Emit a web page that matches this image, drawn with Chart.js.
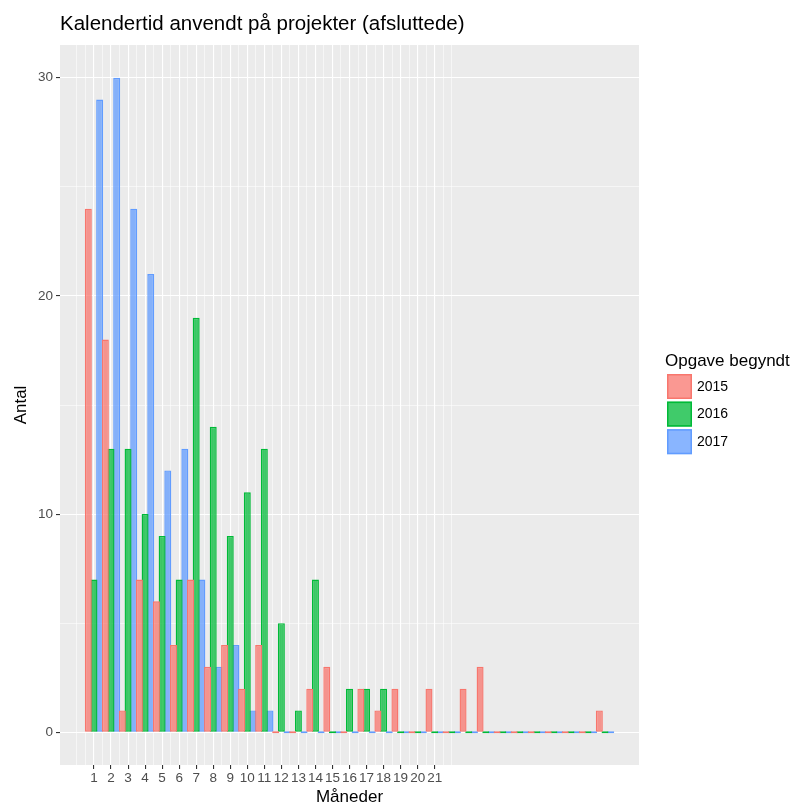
<!DOCTYPE html>
<html>
<head>
<meta charset="utf-8">
<script src="https://cdn.jsdelivr.net/npm/chart.js@4"></script>
<style>
  html, body { margin: 0; padding: 0; background: #ffffff; }
  #wrap { width: 796px; height: 804px; position: relative; }
</style>
</head>
<body>
<div id="wrap"><canvas id="c" width="796" height="804"></canvas></div>
<script>
// ---------- data ----------
const chartTitle = 'Kalendertid anvendt på projekter (afsluttede)';
const xTitle = 'Måneder';
const yTitle = 'Antal';
const legendTitle = 'Opgave begyndt';

const months = [1,2,3,4,5,6,7,8,9,10,11,12,13,14,15,16,17,18,19,20,21,22,23,24,25,26,27,28,29,30,31];
const seriesNames = ['2015', '2016', '2017'];
const values2015 = [24,18,1,7,6,4,7,3,4,2,4,0,0,2,3,0,2,1,2,0,2,0,2,3,0,0,0,0,0,0,1];
const values2016 = [7,13,13,10,9,7,19,14,9,11,13,5,1,7,0,2,2,2,0,0,0,0,0,0,0,0,0,0,0,0,0];
const values2017 = [29,30,24,21,12,13,7,3,4,1,1,0,0,0,0,0,0,0,0,0,0,0,0,0,0,0,0,0,0,0,0];

const xTickLabels = [1,2,3,4,5,6,7,8,9,10,11,12,13,14,15,16,17,18,19,20,21];
const xGridValues = [0,0.5,1,1.5,2,2.5,3,3.5,4,4.5,5,5.5,6,6.5,7,7.5,8,8.5,9,9.5,10,10.5,11,11.5,12,12.5,13,13.5,14,14.5,15,15.5,16,16.5,17,17.5,18,18.5,19,19.5,20,20.5,21,21.5,22];
const yGridValues = [0,5,10,15,20,25,30];
const yTickLabels = [0,10,20,30];

const lineColors = ['#F8766D', '#00BA38', '#619CFF'];
const fillColors = ['rgba(248,118,109,0.75)', 'rgba(0,186,56,0.75)', 'rgba(97,156,255,0.75)'];

// ---------- styling ----------
const FONT = '"Liberation Sans", Arial, Helvetica, sans-serif';
const PANEL_BG = '#EBEBEB';

const seriesValues = [values2015, values2016, values2017];

const bgPlugin = {
  id: 'ggBackground',
  beforeDraw(chart) {
    const { ctx, chartArea: a } = chart;
    ctx.save();
    ctx.fillStyle = '#ffffff';
    ctx.fillRect(0, 0, chart.width, chart.height);
    ctx.fillStyle = PANEL_BG;
    ctx.fillRect(a.left, a.top, a.right - a.left, a.bottom - a.top);
    ctx.restore();
  }
};

const textPlugin = {
  id: 'ggText',
  afterDraw(chart) {
    const { ctx, chartArea: a } = chart;
    ctx.save();
    // title
    ctx.fillStyle = '#000000';
    ctx.font = '20.5px ' + FONT;
    ctx.textAlign = 'left';
    ctx.textBaseline = 'alphabetic';
    ctx.fillText(chartTitle, a.left, 29.5);
    // legend
    const lx = a.right + 26;
    ctx.font = '17px ' + FONT;
    ctx.fillText(legendTitle, lx, 366);
    chart.data.datasets.forEach((ds, i) => {
      const y = 374 + i * 27.6;
      ctx.fillStyle = ds.backgroundColor;
      ctx.fillRect(lx + 2, y, 25, 25);
      ctx.strokeStyle = ds.borderColor;
      ctx.lineWidth = 1.5;
      ctx.strokeRect(lx + 2.75, y + 0.75, 23.5, 23.5);
      ctx.fillStyle = '#000000';
      ctx.font = '14px ' + FONT;
      ctx.textBaseline = 'middle';
      ctx.fillText(ds.label, lx + 32, y + 13);
      ctx.textBaseline = 'alphabetic';
    });
    ctx.restore();
  }
};

const xMajor = new Set(xTickLabels);
const yMajor = new Set(yTickLabels);

new Chart(document.getElementById('c'), {
  type: 'bar',
  data: {
    labels: months,
    datasets: seriesNames.map((name, i) => ({
      label: name,
      data: seriesValues[i],
      backgroundColor: fillColors[i],
      borderColor: lineColors[i],
      borderWidth: 1.4,
      borderSkipped: false,
      minBarLength: 2,
      categoryPercentage: 2.0,
      barPercentage: 1.23
    }))
  },
  options: {
    responsive: false,
    animation: false,
    devicePixelRatio: 1,
    layout: { padding: { top: 45, right: 157, bottom: 0, left: 0 } },
    plugins: {
      legend: { display: false },
      title: { display: false },
      tooltip: { enabled: false }
    },
    scales: {
      x: {
        type: 'linear',
        offset: false,
        min: -0.995,
        max: 32.995,
        afterBuildTicks(scale) { scale.ticks = xGridValues.map(v => ({ value: v })); },
        afterFit(scale) { scale.height = 39; },
        border: { display: false },
        grid: {
          offset: false,
          color: '#ffffff',
          lineWidth: ctx => xMajor.has(ctx.tick && ctx.tick.value) ? 1.1 : 0.55,
          drawTicks: true,
          tickLength: 4,
          tickColor: ctx => xMajor.has(ctx.tick && ctx.tick.value) ? '#333333' : 'rgba(0,0,0,0)',
          tickWidth: 1.1
        },
        ticks: {
          autoSkip: false,
          maxRotation: 0,
          minRotation: 0,
          padding: 3,
          color: '#4D4D4D',
          font: { family: FONT, size: 13.5, lineHeight: 1 },
          callback: (v) => xMajor.has(v) ? String(v) : ''
        },
        title: {
          display: true,
          text: xTitle,
          color: '#000000',
          font: { family: FONT, size: 17, lineHeight: 1 },
          padding: { top: 0, bottom: -2 }
        }
      },
      y: {
        type: 'linear',
        min: -1.5,
        max: 31.5,
        afterBuildTicks(scale) { scale.ticks = yGridValues.map(v => ({ value: v })); },
        afterFit(scale) { scale.width = 60; },
        border: { display: false },
        grid: {
          color: '#ffffff',
          lineWidth: ctx => yMajor.has(ctx.tick && ctx.tick.value) ? 1.1 : 0.55,
          drawTicks: true,
          tickLength: 4,
          tickColor: ctx => yMajor.has(ctx.tick && ctx.tick.value) ? '#333333' : 'rgba(0,0,0,0)',
          tickWidth: 1.1
        },
        ticks: {
          autoSkip: false,
          padding: 3,
          color: '#4D4D4D',
          font: { family: FONT, size: 13.5, lineHeight: 1 },
          callback: (v) => yMajor.has(v) ? String(v) : ''
        },
        title: {
          display: true,
          text: yTitle,
          color: '#000000',
          font: { family: FONT, size: 17, lineHeight: 1 },
          padding: { top: 12.5, bottom: 0 }
        }
      }
    }
  },
  plugins: [bgPlugin, textPlugin]
});
</script>
</body>
</html>
